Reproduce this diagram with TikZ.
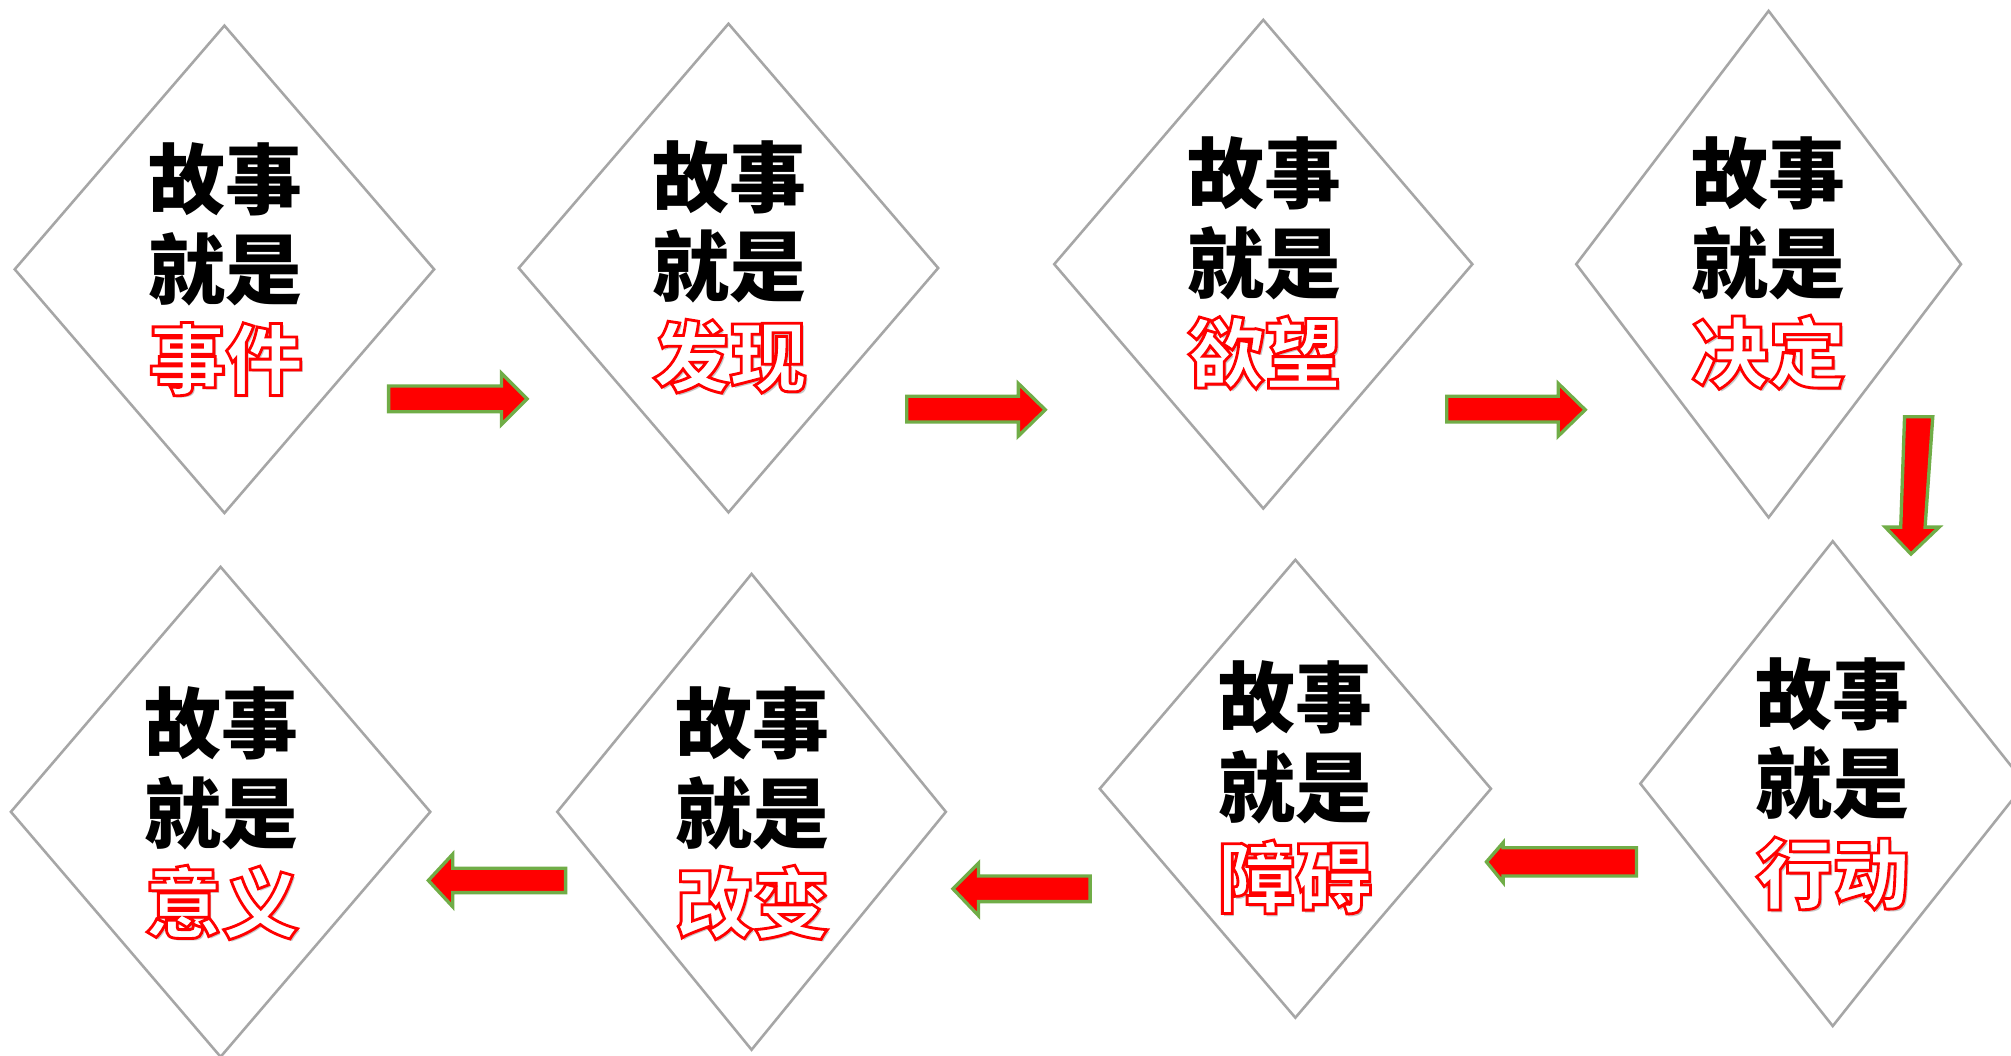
\documentclass[tikz,border=0pt]{standalone}
\usepackage{fontspec}
\usetikzlibrary{shapes.geometric}
\newfontfamily\cjk{Noto Sans CJK SC}
\definecolor{diagray}{HTML}{A6A6A6}
\definecolor{arrgreen}{HTML}{70AD47}
\definecolor{arrred}{HTML}{FF0000}
\newcommand\hl[1]{\leavevmode\rlap{\kern1pt\raisebox{-1pt}{\color{black!22}#1}}{\color{white}\special{pdf:literal direct q 2 Tr 1.1 w 1 0 0 RG}#1\special{pdf:literal direct Q}}}
\tikzset{
  dia/.style={diamond, draw=diagray, line width=1pt, inner sep=0pt, outer sep=0pt},
  txt/.style={align=center, inner sep=0pt, font=\cjk\bfseries\fontsize{30pt}{35pt}\selectfont},
  barrow/.style={fill=arrred, draw=arrgreen, line width=1.3pt, line join=miter}
}
\begin{document}
\begin{tikzpicture}[x=0.5pt,y=-0.5pt]
\fill[white] (0,0) rectangle (1568,823);
\useasboundingbox (0,0) rectangle (1568,823);
\clip (0,0) rectangle (1568,823);
% diamonds
\node[dia, minimum width=163.5pt, minimum height=190pt] (d1) at (175,210) {};
\node[dia, minimum width=163.5pt, minimum height=190.5pt] (d2) at (568,209) {};
\node[dia, minimum width=163pt, minimum height=190.5pt] (d3) at (985,206) {};
\node[dia, minimum width=150pt, minimum height=197.5pt] (d4) at (1379,206) {};
\node[dia, minimum width=150pt, minimum height=189pt] (d5) at (1429,611) {};
\node[dia, minimum width=152.5pt, minimum height=178.5pt] (d6) at (1010,615) {};
\node[dia, minimum width=151.5pt, minimum height=185.5pt] (d7) at (586,633) {};
\node[dia, minimum width=163.5pt, minimum height=191pt] (d8) at (172,633) {};
% texts
\node[txt] (t1) at (176,211) {故事\\就是\\\hl{事件}};
\node[txt] (t2) at (569,209) {故事\\就是\\\hl{发现}};
\node[txt] (t3) at (986,206) {故事\\就是\\\hl{欲望}};
\node[txt] (t4) at (1379,206) {故事\\就是\\\hl{决定}};
\node[txt] (t5) at (1429,612) {故事\\就是\\\hl{行动}};
\node[txt] (t6) at (1010,615) {故事\\就是\\\hl{障碍}};
\node[txt] (t7) at (587,635) {故事\\就是\\\hl{改变}};
\node[txt] (t8) at (173,635) {故事\\就是\\\hl{意义}};
% block arrows
\draw[barrow] (303,301) -- (391,301) -- (391,291) -- (411,311) -- (391,331) -- (391,321) -- (303,321) -- cycle;
\draw[barrow] (707,309) -- (794,309) -- (794,299) -- (815,319.5) -- (794,340) -- (794,329) -- (707,329) -- cycle;
\draw[barrow] (1128,309) -- (1215,309) -- (1215,299) -- (1236,319.5) -- (1215,340) -- (1215,329) -- (1128,329) -- cycle;
\draw[barrow] (1485,325) -- (1507,325) -- (1501,411) -- (1512,411) -- (1490,432) -- (1470,411) -- (1482,411) -- cycle;
\draw[barrow] (1276,661) -- (1172,661) -- (1172,657) -- (1159,672) -- (1172,688) -- (1172,683) -- (1276,683) -- cycle;
\draw[barrow] (850,683) -- (763,683) -- (763,673) -- (743,693) -- (763,714) -- (763,703) -- (850,703) -- cycle;
\draw[barrow] (441,677) -- (353,677) -- (353,666) -- (334,686.5) -- (353,707) -- (353,696) -- (441,696) -- cycle;
\end{tikzpicture}
\end{document}
